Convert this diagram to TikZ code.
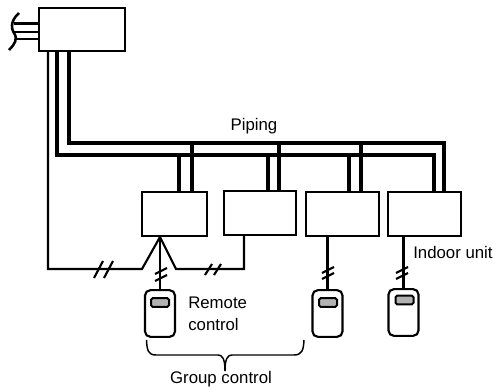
\documentclass[tikz,border=0pt]{standalone}
\usepackage{fontspec}
\setmainfont{Liberation Sans}
\usetikzlibrary{calc}
\tikzset{unit/.style={draw,line width=1.6pt,inner sep=0pt,minimum width=#1,minimum height=33pt},
    remote/.style={draw,line width=1.6pt,rounded corners=4pt,inner sep=0pt,minimum width=22.5pt,minimum height=35pt},
    screen/.style={draw,line width=1.5pt,rounded corners=1.2pt,fill=black!30,inner sep=0pt,minimum width=13.5pt,minimum height=6.5pt},
    wire/.style={draw,line width=1.6pt},
    pipe/.style={draw,line width=3.2pt},
    tick/.style={draw,line width=1.6pt},
    label/.style={font=\fontsize{12.6}{16.5}\selectfont,inner sep=0pt}}

\begin{document}
\begin{tikzpicture}[x=0.75pt,y=-0.75pt]
\useasboundingbox (0,0) rectangle (500,392);

% Outdoor unit and the indoor units
\node[unit=64.5pt,minimum height=32.5pt] (outdoor) at (82,29.5) {};
\node[unit=49pt] (unita) at (174.5,214) {};
\node[unit=54pt] (unitb) at (260,213) {};
\node[unit=54.5pt] (unitc) at (342.5,214) {};
\node[unit=54.5pt] (unitd) at (424.5,214) {};

% Remote controls
\node[remote] (remotea) at (160,313.5) {};
\node[remote] (remotec) at (327.5,313.5) {};
\node[remote] (remoted) at (403.5,312.5) {};
\node[screen] (screena) at (160,302.5) {};
\node[screen] (screenc) at (328,302.5) {};
\node[screen] (screend) at (404.5,300) {};

% Power supply on the left
\coordinate (powera) at (14,23.5);
\coordinate (powerb) at (13,32);
\coordinate (powerc) at (15,39);
\foreach \p in {powera,powerb,powerc}
  \draw[wire] (\p) -- (\p -| outdoor.west);
\draw[wire,line width=1.9pt] (19,13) .. controls (9,22) and (12,30) .. (14,33) .. controls (18,39) and (15,44) .. (9,50);

% Define the main pipes
\coordinate (gas) at (57,155);
\coordinate (liquid) at (69,143);
\coordinate (signal) at (48,269);

% Plot the main pipes
\draw[pipe] (outdoor.south -| gas) -- (gas) -- (434,155) -- (unitd.north -| 434,0);
\draw[pipe] (outdoor.south -| liquid) -- (liquid) -- (444,143) -- (unitd.north -| 444,0);

% Branches down to the units
\foreach \u/\a/\b in {unita/179/192,unitb/268/279,unitc/349/361} {
  \draw[pipe] (\a,155) -- (\u.north -| \a,0);
  \draw[pipe] (\b,143) -- (\u.north -| \b,0);
}

% Control wiring of the group
\coordinate (apex) at (160,237);
\coordinate (elbowl) at (142,269);
\coordinate (elbowr) at (176,269);
\coordinate (elbowb) at (244,269);
\draw[wire] (outdoor.south -| signal) -- (signal) -- (elbowl) -- (apex);
\draw[wire] (apex) -- (elbowr) -- (elbowb) -- (unitb.south -| elbowb);
\draw[wire] (unita.south -| remotea) -- (remotea.north);

% Wires of the two single remote controls
\draw[wire] (unitc.south -| remotec) -- (remotec.north);
\draw[wire] (unitd.south -| remoted) -- (remoted.north);

% Slashes on the wires
\foreach \x in {98,108}
  \draw[tick] (\x-4,278) -- (\x+5,261);
\foreach \x in {208,217}
  \draw[tick] (\x-3,275) -- (\x+4,264);
\foreach \x/\y in {161/271,161/278,328/270,328/276,402/270,402/276}
  \draw[tick] (\x-6,\y+3) -- (\x+6,\y-3);

% Bracket below the remote controls
\draw[wire,line width=1.1pt] (146.5,340) .. controls (147,350) and (148,355) .. (156,355) -- (218,355) .. controls (222,355) and (225,358) .. (225,371);
\draw[wire,line width=1.1pt] (304,340) .. controls (303.5,350) and (302,355) .. (294,355) -- (232,355) .. controls (228,355) and (225,358) .. (225,371);

% Labels
\node[label] (piping) at (254,126) {Piping};
\node[label,anchor=west] (indoor) at (413,252.5) {Indoor unit};
\node[label,anchor=west,align=left] (remotelabel) at (188,314) {Remote\\control};
\node[label] (group) at (221,379.5) {Group control};
\end{tikzpicture}
\end{document}
